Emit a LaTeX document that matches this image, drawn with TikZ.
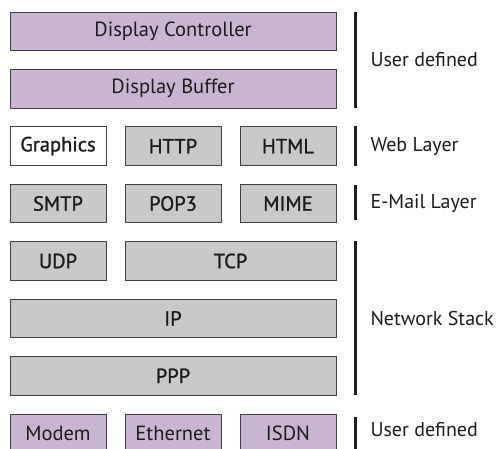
\documentclass[tikz,border=0pt]{standalone}
\usepackage{fontspec}
\setmainfont{PT Sans}
\newfontfamily\protofont[FakeBold=1.1]{PT Sans}
\usetikzlibrary{positioning}

\definecolor{lilac}{RGB}{201,181,210}
\definecolor{boxgrey}{RGB}{201,201,203}
\definecolor{ink}{RGB}{30,27,28}

\begin{document}
\begin{tikzpicture}[x=1pt, y=-1pt, every node/.style={font=\fontsize{20.5}{24}\selectfont, text=ink},
    layer/.style={draw=black!75, line width=0.8pt, minimum height=38.5pt, inner sep=0pt},
    userbox/.style={layer, fill=lilac},
    protobox/.style={layer, fill=boxgrey, font=\protofont\fontsize{20.5}{24}\selectfont},
    plainbox/.style={layer, fill=white, font=\protofont\fontsize{20.5}{24}\selectfont},
    bracket/.style={draw=ink, line width=3.5pt},
    side/.style={anchor=west, font=\fontsize{20}{24}\selectfont}]
  \path[use as bounding box, fill=white] (0,0) rectangle (504,449);

  % Display
  \node[userbox, minimum width=326pt] (dctrl) at (173,31.25) {Display Controller};
  \node[userbox, minimum width=326pt] (dbuf) at (173,88.7) {Display Buffer};

  % Web and mail
  \node[plainbox, minimum width=96pt] (gfx) at (58,146.1) {Graphics};
  \node[protobox, minimum width=96pt] (http) at (173,146.1) {HTTP};
  \node[protobox, minimum width=96pt] (html) at (288,146.1) {HTML};
  \node[protobox, minimum width=96pt] (smtp) at (58,203.5) {SMTP};
  \node[protobox, minimum width=96pt] (pop) at (173,203.5) {POP3};
  \node[protobox, minimum width=96pt] (mime) at (288,203.5) {MIME};

  % Network stack
  \node[protobox, minimum width=96pt] (udp) at (58,261) {UDP};
  \node[protobox, minimum width=211pt] (tcp) at (230.5,261) {TCP};
  \node[protobox, minimum width=326pt] (ip) at (173,318.4) {IP};
  \node[protobox, minimum width=326pt] (ppp) at (173,375.8) {PPP};

  % Devices
  \node[userbox, minimum width=96pt] (modem) at (58,433.3) {Modem};
  \node[userbox, minimum width=96pt] (eth) at (173,433.3) {Ethernet};
  \node[userbox, minimum width=96pt] (isdn) at (288,433.3) {ISDN};

  % Brackets on the right
  \draw[bracket] ([xshift=19pt]dctrl.north east) -- ([xshift=19pt]dbuf.south east);
  \draw[bracket] ([xshift=19pt]html.north east) -- ([xshift=19pt]html.south east);
  \draw[bracket] ([xshift=19pt,yshift=-1pt]mime.north east) -- ([xshift=19pt,yshift=3pt]mime.south east);
  \draw[bracket] ([xshift=19pt]tcp.north east) -- ([xshift=19pt]ppp.south east);
  \draw[bracket] ([xshift=19pt,yshift=-3pt]isdn.north east) -- ([xshift=19pt]isdn.south east);

  \node[side] (lbuser) at (367,59.5) {User defined};
  \node[side] (lbweb) at (367,146.1) {Web Layer};
  \node[side] (lbmail) at (367,203.5) {E-Mail Layer};
  \node[side] (lbnet) at (367,318.4) {Network Stack};
  \node[side] (lbdev) at (367,430) {User defined};
\end{tikzpicture}
\end{document}
